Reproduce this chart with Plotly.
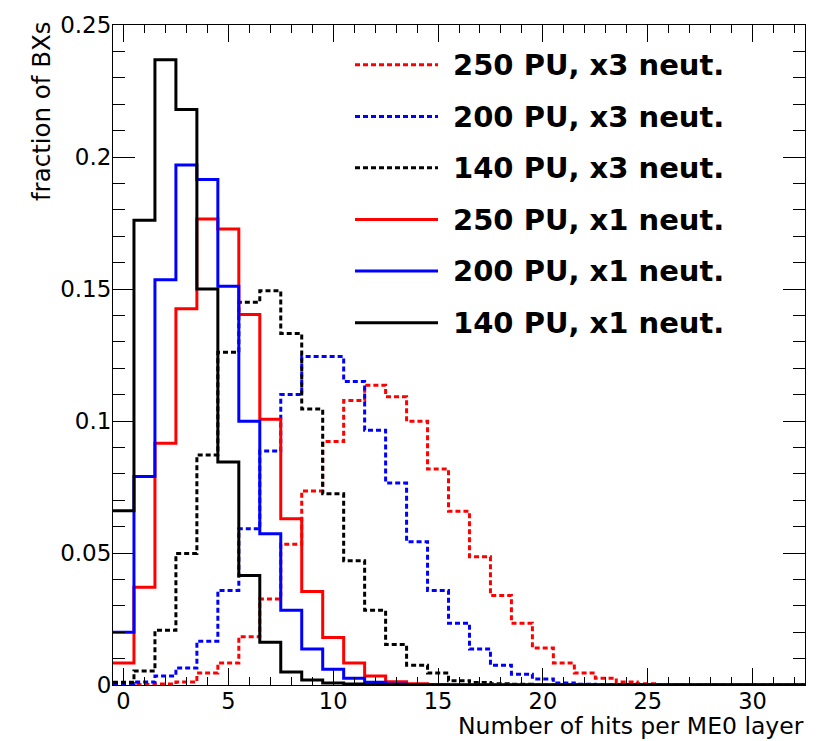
import plotly.graph_objects as go

# bin centres (number of hits)
hits = list(range(0, 33))

# fraction of BXs per bin
pu250_x3 = [0.0, 0.0002, 0.0004, 0.0011, 0.0045, 0.0083, 0.0183, 0.0326, 0.0533, 0.0735,
            0.0922, 0.1078, 0.1135, 0.1092, 0.0999, 0.0818, 0.0658, 0.0486, 0.0339, 0.0234,
            0.0140, 0.0083, 0.0045, 0.0026, 0.0011, 0.0005, 0.0002, 0.0, 0.0, 0.0,
            0.0, 0.0, 0.0]
pu200_x3 = [0.0004, 0.0011, 0.0034, 0.0064, 0.0166, 0.0358, 0.0592, 0.0886, 0.1100, 0.1244,
            0.1244, 0.1150, 0.0965, 0.0765, 0.0543, 0.0358, 0.0234, 0.0136, 0.0075, 0.0041,
            0.0023, 0.0008, 0.0003, 0.0, 0.0, 0.0, 0.0, 0.0, 0.0, 0.0,
            0.0, 0.0, 0.0]
pu140_x3 = [0.0010, 0.0053, 0.0207, 0.0498, 0.0871, 0.1260, 0.1450, 0.1493, 0.1331, 0.1045,
            0.0724, 0.0471, 0.0283, 0.0153, 0.0075, 0.0045, 0.0016, 0.0009, 0.0005, 0.0003,
            0.0, 0.0, 0.0, 0.0, 0.0, 0.0, 0.0, 0.0, 0.0, 0.0,
            0.0, 0.0, 0.0]
pu250_x1 = [0.0083, 0.0370, 0.0916, 0.1425, 0.1765, 0.1727, 0.1403, 0.1007, 0.0630, 0.0354,
            0.0180, 0.0083, 0.0034, 0.0012, 0.0005, 0.0002, 0.0, 0.0, 0.0, 0.0,
            0.0, 0.0, 0.0, 0.0, 0.0, 0.0, 0.0, 0.0, 0.0, 0.0,
            0.0, 0.0, 0.0]
pu200_x1 = [0.0200, 0.0790, 0.1535, 0.1970, 0.1915, 0.1510, 0.0999, 0.0573, 0.0283, 0.0136,
            0.0060, 0.0026, 0.0010, 0.0004, 0.0001, 0.0, 0.0, 0.0, 0.0, 0.0,
            0.0, 0.0, 0.0, 0.0, 0.0, 0.0, 0.0, 0.0, 0.0, 0.0,
            0.0, 0.0, 0.0]
pu140_x1 = [0.0660, 0.1760, 0.2368, 0.2180, 0.1500, 0.0845, 0.0415, 0.0162, 0.0049, 0.0019,
            0.0008, 0.0004, 0.0002, 0.0001, 0.0, 0.0, 0.0, 0.0, 0.0, 0.0,
            0.0, 0.0, 0.0, 0.0, 0.0, 0.0, 0.0, 0.0, 0.0, 0.0,
            0.0, 0.0, 0.0]

series = [
    ("250 PU, x3 neut.", pu250_x3, "#ff0000", "5px,3px"),
    ("200 PU, x3 neut.", pu200_x3, "#0000ff", "5px,3px"),
    ("140 PU, x3 neut.", pu140_x3, "#000000", "5px,3px"),
    ("250 PU, x1 neut.", pu250_x1, "#ff0000", "solid"),
    ("200 PU, x1 neut.", pu200_x1, "#0000ff", "solid"),
    ("140 PU, x1 neut.", pu140_x1, "#000000", "solid"),
]

FONT = "DejaVu Sans"
fig = go.Figure()

# histogram outlines (step lines through bin edges)
for name, vals, col, dash in series:
    edges = [h - 0.5 for h in hits] + [hits[-1] + 0.5]
    ys = list(vals) + [vals[-1]]
    fig.add_trace(go.Scatter(
        x=edges, y=ys, mode="lines", name=name, showlegend=False,
        line=dict(color=col, width=3, dash=dash, shape="hv"),
        hoverinfo="skip"))

# hand-drawn legend in ROOT style
W, H = 692.0, 663.0
leg_rows_px = [62, 114, 165.5, 217.5, 269, 321]
shapes = []
annotations = []
for (name, vals, col, dash), py in zip(series, leg_rows_px):
    yp = (685 - py) / H
    shapes.append(dict(type="line", xref="paper", yref="paper",
                       x0=(355 - 113) / W, x1=(438 - 113) / W, y0=yp, y1=yp,
                       line=dict(color=col, width=3, dash=dash)))
    annotations.append(dict(text="<b>" + name + "</b>", xref="paper", yref="paper",
                            x=(451 - 113) / W, y=yp, xanchor="left", yanchor="middle",
                            showarrow=False,
                            font=dict(family=FONT, size=29, color="black")))

# axis titles (ROOT style: right / top aligned)
annotations.append(dict(text="Number of hits per ME0 layer", xref="paper", yref="paper",
                        x=1.0, y=(685 - 741) / H, xanchor="right", yanchor="bottom",
                        borderpad=0,
                        showarrow=False, font=dict(family=FONT, size=23.5, color="black")))
annotations.append(dict(text="fraction of BXs", xref="paper", yref="paper",
                        x=(41 - 113) / W, y=(685 - 16) / H, xanchor="center", yanchor="top",
                        textangle=-90, showarrow=False,
                        font=dict(family=FONT, size=24.5, color="black")))

fig.update_layout(
    width=826, height=741,
    margin=dict(l=113, r=21, t=22, b=56),
    paper_bgcolor="white", plot_bgcolor="white",
    shapes=shapes, annotations=annotations,
    showlegend=False,
    font=dict(family=FONT, size=23, color="black"),
)

fig.update_xaxes(
    range=[-0.5, 32.5], tickmode="linear", tick0=0, dtick=5,
    ticks="inside", ticklen=17, tickwidth=1, tickcolor="black",
    showline=True, linecolor="black", linewidth=1, mirror="ticks",
    showgrid=False, zeroline=False, ticklabelstandoff=-4,
    minor=dict(ticks="inside", ticklen=8, tick0=0, dtick=1, tickcolor="black", showgrid=False),
    tickfont=dict(family=FONT, size=22.5, color="black"),
)
fig.update_yaxes(
    range=[0, 0.25], tickmode="linear", tick0=0, dtick=0.05,
    ticks="inside", ticklen=22, tickwidth=1, tickcolor="black",
    showline=True, linecolor="black", linewidth=1, mirror="ticks",
    showgrid=False, zeroline=False, ticklabelstandoff=-4,
    minor=dict(ticks="inside", ticklen=12, tick0=0, dtick=0.01, tickcolor="black", showgrid=False),
    tickfont=dict(family=FONT, size=23, color="black"),
)

fig.write_html("out.html", config={"displayModeBar": False},
               post_script="document.body.style.margin='0px';")
